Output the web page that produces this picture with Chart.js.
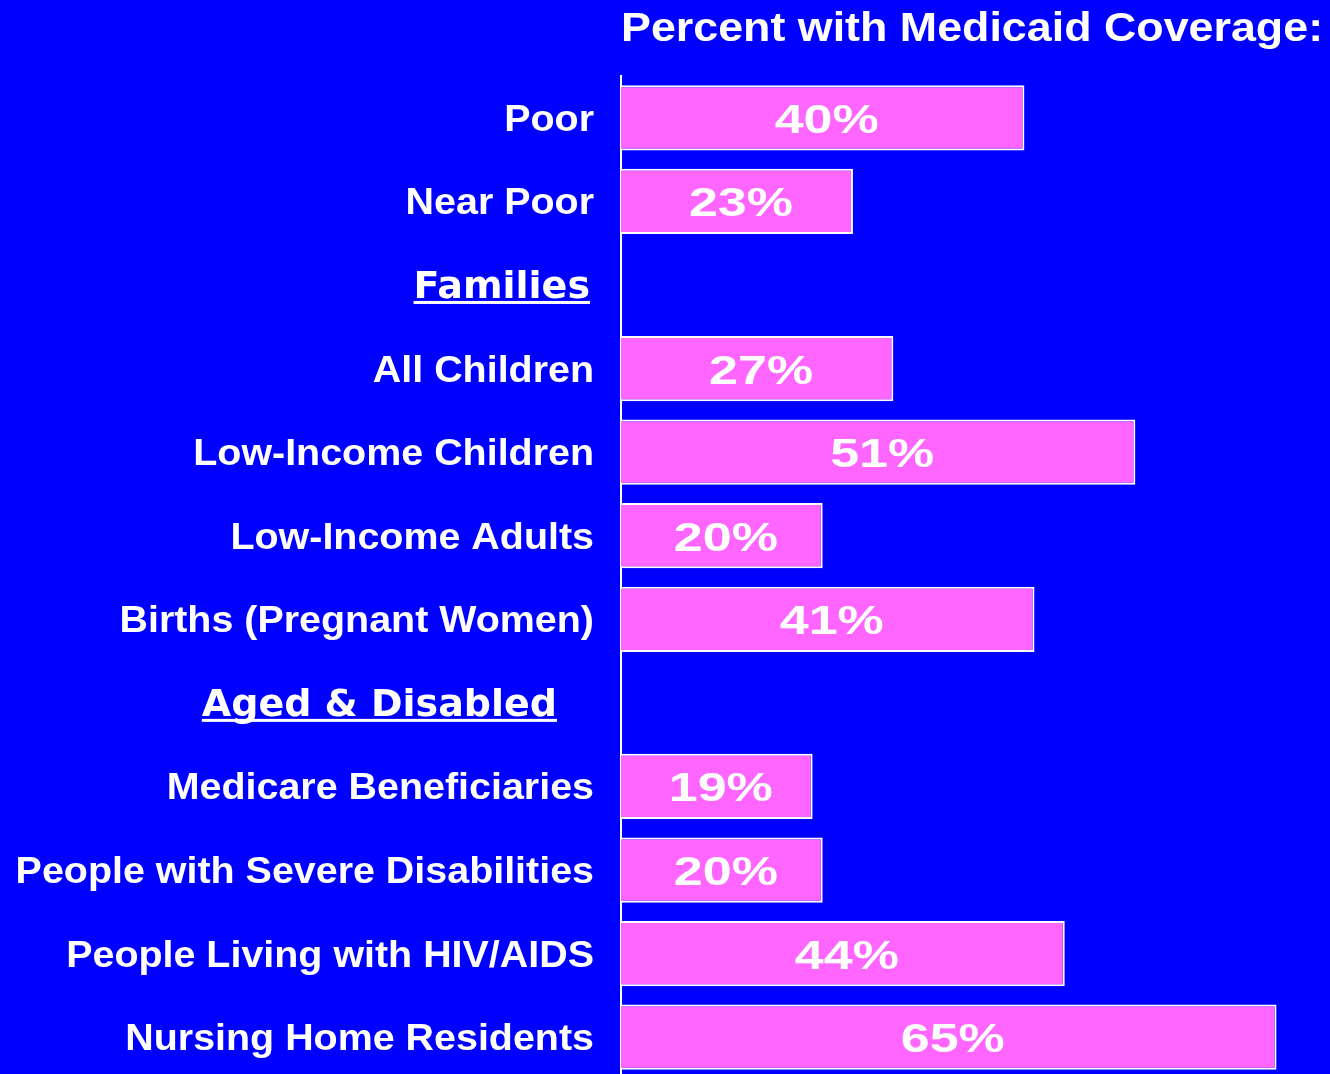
<!DOCTYPE html>
<html>
<head>
<meta charset="utf-8">
<script src="https://cdn.jsdelivr.net/npm/chart.js@4"></script>
<style>
html, body { margin: 0; padding: 0; background: #0000FF; overflow: hidden; }
#chart { display: block; }
</style>
</head>
<body>
<canvas id="chart" width="1330" height="1079"></canvas>
<script>
let categories = ["Poor", "Near Poor", "Families", "All Children", "Low-Income Children",
  "Low-Income Adults", "Births (Pregnant Women)", "Aged & Disabled", "Medicare Beneficiaries",
  "People with Severe Disabilities", "People Living with HIV/AIDS", "Nursing Home Residents"];
let values = [40, 23, null, 27, 51, 20, 41, null, 19, 20, 44, 65];
let headers = ["Families", "Aged & Disabled"];
let title = "Percent with Medicaid Coverage:";

// draw text squeezed/stretched sideways, like the old slide fonts
function stretchText(ctx, text, x, y, align, sx) {
  ctx.save();
  ctx.translate(x, y);
  ctx.scale(sx, 1);
  ctx.textAlign = align;
  ctx.fillText(text, 0, 0);
  let w = ctx.measureText(text).width * sx;
  ctx.restore();
  return w;
}

let slidePlugin = {
  id: "slide",
  beforeDraw(chart) {
    let ctx = chart.ctx;
    ctx.save();
    ctx.fillStyle = "#0000FF";
    ctx.fillRect(0, 0, chart.width, chart.height);
    ctx.restore();
  },
  afterDraw(chart) {
    let ctx = chart.ctx;
    let area = chart.chartArea;
    let yScale = chart.scales.y;
    ctx.save();
    ctx.fillStyle = "#FFFFFF";
    ctx.textBaseline = "alphabetic";

    ctx.font = "bold 40px 'Liberation Sans'";
    stretchText(ctx, title, area.left, 41, "left", 1.12);

    categories.forEach((c, i) => {
      let y = yScale.getPixelForValue(i);
      if (headers.includes(c)) {
        ctx.font = "bold 38px 'DejaVu Sans'";
        let right = c === "Families" ? area.left - 31 : area.left - 64;
        let w = stretchText(ctx, c, right, y + 13, "right", 1.0);
        ctx.fillRect(right - w, y + 16, w, 3);
      } else {
        ctx.font = "bold 36px 'Liberation Sans'";
        stretchText(ctx, c, area.left - 27, y + 13, "right", 1.095);
      }
    });

    let meta = chart.getDatasetMeta(0);
    ctx.font = "bold 40px 'Liberation Sans'";
    meta.data.forEach((bar, i) => {
      if (values[i] == null) return;
      let cx = (bar.x + bar.base) / 2 + 4;
      stretchText(ctx, values[i] + "%", cx, bar.y + 15, "center", 1.3);
    });
    ctx.restore();
  }
};

new Chart(document.getElementById("chart"), {
  type: "bar",
  data: {
    labels: categories,
    datasets: [{
      data: values,
      backgroundColor: "#FF66FF",
      borderColor: "#FFFFFF",
      borderWidth: 2,
      barPercentage: 0.78,
      categoryPercentage: 1
    }]
  },
  options: {
    indexAxis: "y",
    responsive: false,
    animation: false,
    layout: { padding: { top: 76, left: 0, right: 0, bottom: 0 } },
    scales: {
      x: { display: false, min: 0, max: 70.3 },
      y: {
        ticks: { display: false },
        grid: { display: false },
        border: { display: true, color: "#FFFFFF", width: 2 },
        afterFit(scale) { scale.width = 621; }
      }
    },
    plugins: {
      legend: { display: false },
      tooltip: { enabled: false },
      title: { display: false }
    }
  },
  plugins: [slidePlugin]
});
</script>
</body>
</html>
